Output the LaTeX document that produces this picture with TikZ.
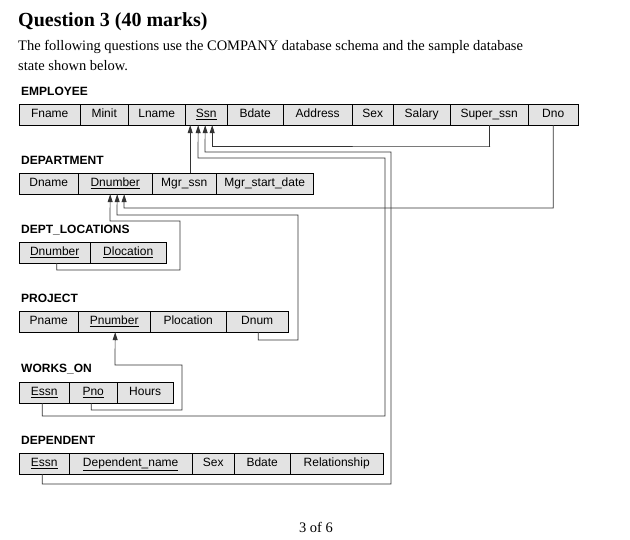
\documentclass[tikz,border=0pt]{standalone}
\usepackage{fontspec}
\setmainfont{Liberation Serif}
\setsansfont{Liberation Sans}
\usetikzlibrary{positioning}
\usetikzlibrary{arrows.meta}

\tikzset{
  cell/.style={draw, fill=gray!22, anchor=west, minimum height=21pt, inner sep=0pt,
    text height=9pt, text depth=3pt, font=\sffamily\fontsize{12}{12}\selectfont},
  title/.style={anchor=west, inner sep=0pt, font=\sffamily\bfseries\fontsize{12}{12}\selectfont},
  fk/.style={draw=black!80, line width=0.7pt},
  fka/.style={fk, -{Triangle[length=8pt,width=5pt]}},
}
\newcommand{\key}[1]{\underline{#1}}

\begin{document}
\begin{tikzpicture}[x=1pt, y=-1pt]
            \useasboundingbox (0,0) rectangle (630,540);
            % Cabecera
            \node[anchor=west, inner sep=0pt, font=\bfseries\fontsize{20}{22}\selectfont] (q) at (18,22) {Question 3 (40 marks)};
            \node[anchor=west, inner sep=0pt, font=\fontsize{14.5}{16}\selectfont] (l1) at (18,47) {The following questions use the COMPANY database schema and the sample database};
            \node[anchor=west, inner sep=0pt, font=\fontsize{14.5}{16}\selectfont] (l2) at (18,66) {state shown below.};
            \node[font=\fontsize{14.5}{16}\selectfont] (pg) at (316,527) {3 of 6};

            % EMPLOYEE
            \node[title] (temp) at (21,91) {EMPLOYEE};
            \node[cell, minimum width=61pt] (e1) at (19,114.5) {Fname};
            \node[cell, minimum width=48pt] (e2) at (80,114.5) {Minit};
            \node[cell, minimum width=57pt] (e3) at (128,114.5) {Lname};
            \node[cell, minimum width=42pt] (essn) at (185,114.5) {\key{Ssn}};
            \node[cell, minimum width=56pt] (e5) at (227,114.5) {Bdate};
            \node[cell, minimum width=69pt] (e6) at (283,114.5) {Address};
            \node[cell, minimum width=41pt] (e7) at (352,114.5) {Sex};
            \node[cell, minimum width=57pt] (e8) at (393,114.5) {Salary};
            \node[cell, minimum width=78pt] (esup) at (450,114.5) {Super\_ssn};
            \node[cell, minimum width=50pt] (edno) at (528,114.5) {Dno};

            % DEPARTMENT
            \node[title] (tdep) at (21,160) {DEPARTMENT};
            \node[cell, minimum width=59pt] (d1) at (19,183.5) {Dname};
            \node[cell, minimum width=74pt] (dnum) at (78,183.5) {\key{Dnumber}};
            \node[cell, minimum width=64pt] (dmgr) at (152,183.5) {Mgr\_ssn};
            \node[cell, minimum width=97pt] (d4) at (216,183.5) {Mgr\_start\_date};

            % DEPT_LOCATIONS
            \node[title] (tloc) at (21,230) {DEPT\_LOCATIONS};
            \node[cell, minimum width=71pt] (lnum) at (19,252.5) {\key{Dnumber}};
            \node[cell, minimum width=76pt] (l2c) at (90,252.5) {\key{Dlocation}};

            % PROJECT
            \node[title] (tpro) at (21,298) {PROJECT};
            \node[cell, minimum width=59pt] (p1) at (19,321.5) {Pname};
            \node[cell, minimum width=72pt] (pnum) at (78,321.5) {\key{Pnumber}};
            \node[cell, minimum width=76pt] (p3) at (150,321.5) {Plocation};
            \node[cell, minimum width=62pt] (pdnum) at (226,321.5) {Dnum};

            % WORKS_ON
            \node[title] (twor) at (21,369) {WORKS\_ON};
            \node[cell, minimum width=50pt] (wessn) at (19,392.5) {\key{Essn}};
            \node[cell, minimum width=48pt] (wpno) at (69,392.5) {\key{Pno}};
            \node[cell, minimum width=56pt] (w3) at (117,392.5) {Hours};

            % DEPENDENT
            \node[title] (tdpd) at (21,440) {DEPENDENT};
            \node[cell, minimum width=50pt] (dessn) at (19,463.5) {\key{Essn}};
            \node[cell, minimum width=123pt] (x2) at (69,463.5) {\key{Dependent\_name}};
            \node[cell, minimum width=42pt] (x3) at (192,463.5) {Sex};
            \node[cell, minimum width=56pt] (x4) at (234,463.5) {Bdate};
            \node[cell, minimum width=93pt] (x5) at (290,463.5) {Relationship};

            % Claves foraneas
            \draw[fka] ([xshift=6pt]dmgr.north) -- ([xshift=-16pt]essn.south);
            \draw[fka] (esup.south) |- (490,146) -| ([xshift=6pt]essn.south);
            \draw[fka] ([xshift=-2pt]wessn.south) |- (385,416) |- (198,158) -- ([xshift=-8pt]essn.south);
            \draw[fka] ([xshift=-2pt]dessn.south) |- (391,484) |- (205,152) -- ([xshift=-1pt]essn.south);
            \draw[fka] (edno.south) |- (124,208) -- ([xshift=9pt]dnum.south);
            \draw[fka] ([xshift=1pt]pdnum.south) |- (298,340) |- (117,215) -- ([xshift=2pt]dnum.south);
            \draw[fka] ([xshift=2pt]lnum.south) |- (180,270) |- (110,221) -- ([xshift=-5pt]dnum.south);
            \draw[fka] ([xshift=-2pt]wpno.south) |- (182,410) |- (115,365) -- ([xshift=1pt]pnum.south);
          \end{tikzpicture}
\end{document}
